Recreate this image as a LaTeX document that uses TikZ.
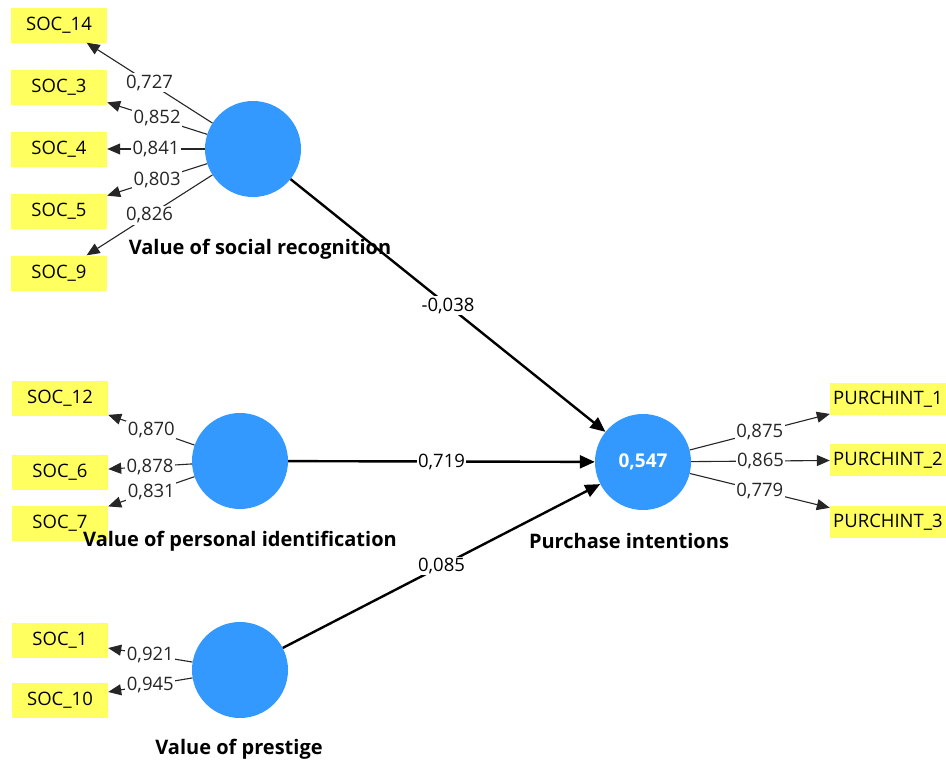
\documentclass[tikz,border=0pt]{standalone}
\usepackage{fontspec}
\setmainfont{Open Sans}
\usetikzlibrary{arrows.meta}
\definecolor{lvblue}{RGB}{51,153,255}
\definecolor{mvyellow}{RGB}{255,255,96}
\tikzset{
  lv/.style={circle, fill=lvblue, minimum size=96pt, inner sep=0pt, text=white, font=\fontsize{19}{22}\selectfont\bfseries},
  mv/.style={rectangle, fill=mvyellow, minimum width=96pt, minimum height=35pt, inner sep=0pt},
  mvwide/.style={mv, minimum width=116pt, minimum height=32pt},
  lvname/.style={font=\fontsize{20}{24}\selectfont\bfseries},
  load/.style={->, line width=1.1pt, black!85},
  struct/.style={->, line width=2.4pt, >={Triangle[length=15pt,width=13pt]}},
  coef/.style={midway, fill=white, inner sep=1.5pt}
}
\begin{document}
\begin{tikzpicture}[x=1pt, y=-1pt, >={Triangle[length=13pt,width=11pt]}, font=\fontsize{18.5}{22}\selectfont]
\useasboundingbox[fill=white] (0,0) rectangle (946,763);
% latent variables
\node[lv] (SR) at (253,149) {};
\node[lv] (PI) at (240,461) {};
\node[lv] (PR) at (240,670) {};
\node[lv] (PU) at (643,462) {0,547};
% indicators
\node[mv] (s14) at (59,25) {SOC\_14};
\node[mv] (s3) at (59,87) {SOC\_3};
\node[mv] (s4) at (59,149) {SOC\_4};
\node[mv] (s5) at (59,211) {SOC\_5};
\node[mv] (s9) at (59,273) {SOC\_9};
\node[mv] (s12) at (60,398) {SOC\_12};
\node[mv] (s6) at (60,472) {SOC\_6};
\node[mv] (s7) at (60,523) {SOC\_7};
\node[mv] (s1) at (60,640) {SOC\_1};
\node[mv] (s10) at (60,700) {SOC\_10};
\node[mvwide] (p1) at (888,399) {PURCHINT\_1};
\node[mvwide] (p2) at (888,460) {PURCHINT\_2};
\node[mvwide] (p3) at (888,522) {PURCHINT\_3};
% construct names, over the boxes
\node[lvname] (SRname) at (260,249) {Value of social recognition};
\node[lvname] (PIname) at (240,541) {Value of personal identification};
\node[lvname] (PRname) at (239,749) {Value of prestige};
\node[lvname] (PUname) at (629,541) {Purchase intentions};
% outer loadings
\draw[load] (SR)--(s14) node[coef]{0,727};
\draw[load] (SR)--(s3) node[coef]{0,852};
\draw[load] (SR)--(s4) node[coef]{0,841};
\draw[load] (SR)--(s5) node[coef]{0,803};
\draw[load] (SR)--(s9) node[coef]{0,826};
\draw[load] (PI)--(s12) node[coef]{0,870};
\draw[load] (PI)--(s6) node[coef]{0,878};
\draw[load] (PI)--(s7) node[coef]{0,831};
\draw[load] (PR)--(s1) node[coef]{0,921};
\draw[load] (PR)--(s10) node[coef]{0,945};
\draw[load] (PU)--(p1) node[coef]{0,875};
\draw[load] (PU)--(p2) node[coef]{0,865};
\draw[load] (PU)--(p3) node[coef]{0,779};
% path coefficients
\draw[struct] (SR)--(PU) node[coef]{-0,038};
\draw[struct] (PI)--(PU) node[coef]{0,719};
\draw[struct] (PR)--(PU) node[coef]{0,085};
\end{tikzpicture}
\end{document}
